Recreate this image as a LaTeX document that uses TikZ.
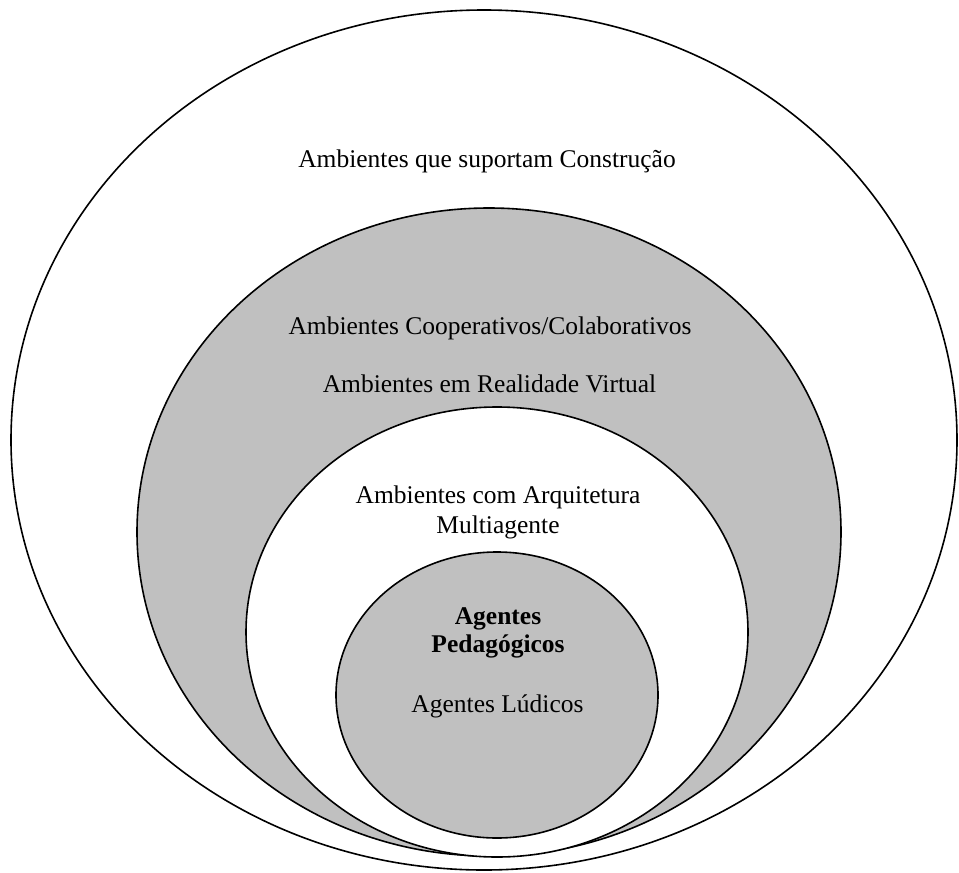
\documentclass[tikz,border=0pt]{standalone}
\usepackage{fontspec}
\setmainfont{Liberation Serif}
\definecolor{ringgray}{RGB}{192,192,192}
\begin{document}
\begin{tikzpicture}[x=1pt,y=-1pt,
  ring/.style={draw=black,line width=1.6pt},
  label/.style={anchor=base,inner sep=0pt,font=\fontsize{25.5}{30}\selectfont}]
\useasboundingbox (0,0) rectangle (959,873);
% nested sets, from outermost to innermost
\draw[ring,fill=white]    (484,440) ellipse [x radius=473,y radius=430];
\draw[ring,fill=ringgray] (489,532) ellipse [x radius=352,y radius=324];
\draw[ring,fill=white]    (497,632) ellipse [x radius=251,y radius=225];
\draw[ring,fill=ringgray] (497,695) ellipse [x radius=161,y radius=143];
% labels
\node[label] (construcao) at (487,167) {Ambientes que suportam Construção};
\node[label] (cooperativos) at (490,334) {Ambientes Cooperativos/Colaborativos};
\node[label] (realidade) at (489.5,392) {Ambientes em Realidade Virtual};
\node[label] (arquitetura) at (498,503) {Ambientes com Arquitetura};
\node[label] (multiagente) at (498,533) {Multiagente};
\node[label,font=\fontsize{25.5}{30}\selectfont\bfseries] (agentes) at (498,624) {Agentes};
\node[label,font=\fontsize{25.5}{30}\selectfont\bfseries] (pedagogicos) at (498,652) {Pedagógicos};
\node[label] (ludicos) at (497.5,712) {Agentes Lúdicos};
\end{tikzpicture}
\end{document}
